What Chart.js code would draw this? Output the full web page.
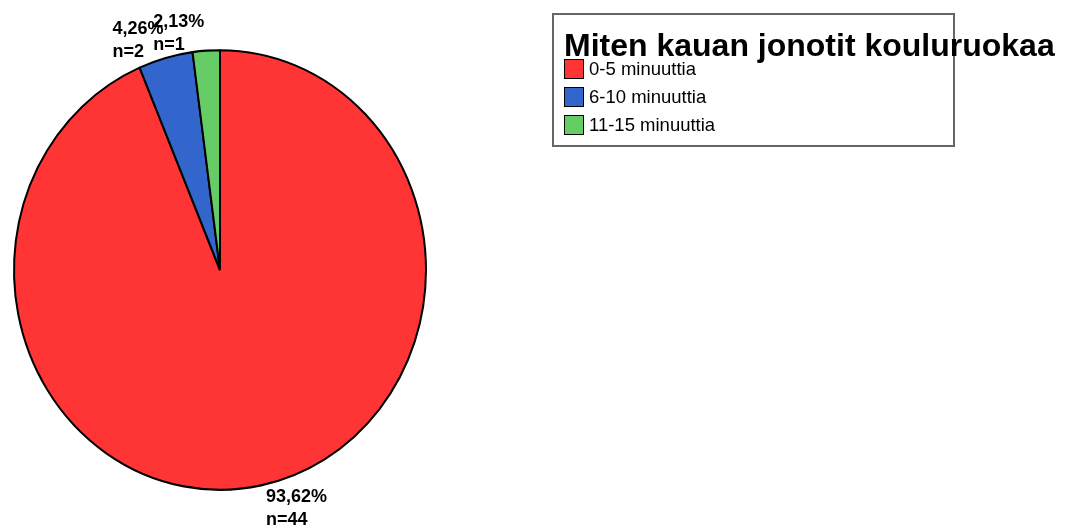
<!DOCTYPE html>
<html>
<head>
<meta charset="utf-8">
<script src="https://cdn.jsdelivr.net/npm/chart.js@4"></script>
<style>
  html, body { margin: 0; padding: 0; background: #fff; }
  #wrap { position: relative; width: 1071px; height: 529px; overflow: hidden; }
  #pie { position: absolute; left: 0; top: 0; }
  #legend {
    position: absolute; left: 552px; top: 13px; width: 399px; height: 130px;
    border: 2px solid #666; font-family: "Liberation Sans", Arial, sans-serif;
  }
  #legend .title {
    position: absolute; left: 10px; top: 12px; white-space: nowrap;
    font-size: 32px; font-weight: bold; color: #000;
  }
  #legend .item { position: absolute; left: 10px; height: 22px; white-space: nowrap; font-size: 18.5px; color: #000; }
  #legend .box { display: inline-block; width: 18px; height: 18px; border: 1.5px solid #000; vertical-align: middle; margin-right: 5px; }
  #legend .item span { vertical-align: middle; }
</style>
</head>
<body>
<div id="wrap">
  <canvas id="pie" width="1071" height="529"></canvas>
  <div id="legend"><div class="title"></div></div>
</div>
<script>
const legendTitle = "Miten kauan jonotit kouluruokaa";
const categories = ["0-5 minuuttia", "6-10 minuuttia", "11-15 minuuttia"];
const counts = [44, 2, 1];
const colors = ["#ff3535", "#3366cc", "#66cc66"];

// pie in the original is a bit taller than wide
const stretchY = 1.067;

// legend built from the same arrays
const legend = document.getElementById("legend");
legend.querySelector(".title").textContent = legendTitle;
categories.forEach((c, i) => {
  const el = document.createElement("div");
  el.className = "item";
  el.style.top = (42 + i * 28) + "px";
  el.innerHTML = `<i class="box" style="background:${colors[i]}"></i><span>${c}</span>`;
  legend.appendChild(el);
});

const total = counts.reduce((a, b) => a + b, 0);
function pct(v) {
  return (v / total * 100).toFixed(2).replace(".", ",") + "%";
}

const stretchPlugin = {
  id: "stretch",
  beforeDatasetsDraw(chart) {
    const arc = chart.getDatasetMeta(0).data[0];
    const ctx = chart.ctx;
    ctx.save();
    ctx.translate(arc.x, arc.y);
    ctx.scale(1, stretchY);
    ctx.translate(-arc.x, -arc.y);
  },
  afterDatasetsDraw(chart) {
    chart.ctx.restore();
  }
};

// SPSS style labels: percent above count
const labelPlugin = {
  id: "sliceLabels",
  afterDraw(chart) {
    const ctx = chart.ctx;
    ctx.save();
    ctx.font = "bold 18px 'Liberation Sans', Arial, sans-serif";
    ctx.fillStyle = "#000";
    ctx.textAlign = "left";
    ctx.textBaseline = "alphabetic";
    chart.getDatasetMeta(0).data.forEach((arc, i) => {
      const mid = (arc.startAngle + arc.endAngle) / 2;
      const ax = arc.x + arc.outerRadius * Math.cos(mid);
      const ay = arc.y + arc.outerRadius * Math.sin(mid) * stretchY;
      const l1 = pct(counts[i]);
      const l2 = "n=" + counts[i];
      if (Math.sin(mid) < 0) {
        const w = ctx.measureText(l1).width;
        const x = ax - w - 2;
        ctx.fillText(l1, x, ay - 24);
        ctx.fillText(l2, x, ay - 1);
      } else {
        const x = ax + 5;
        ctx.fillText(l1, x, ay + 17);
        ctx.fillText(l2, x, ay + 40);
      }
    });
    ctx.restore();
  }
};

new Chart(document.getElementById("pie"), {
  type: "pie",
  data: {
    labels: categories,
    datasets: [{
      data: counts,
      backgroundColor: colors,
      borderColor: "#000",
      borderWidth: 2,
      hoverOffset: 0
    }]
  },
  options: {
    responsive: false,
    animation: false,
    events: [],
    layout: { padding: { left: 13, right: 644, top: 63, bottom: 52 } },
    plugins: {
      legend: { display: false },
      tooltip: { enabled: false }
    }
  },
  plugins: [stretchPlugin, labelPlugin]
});
</script>
</body>
</html>
